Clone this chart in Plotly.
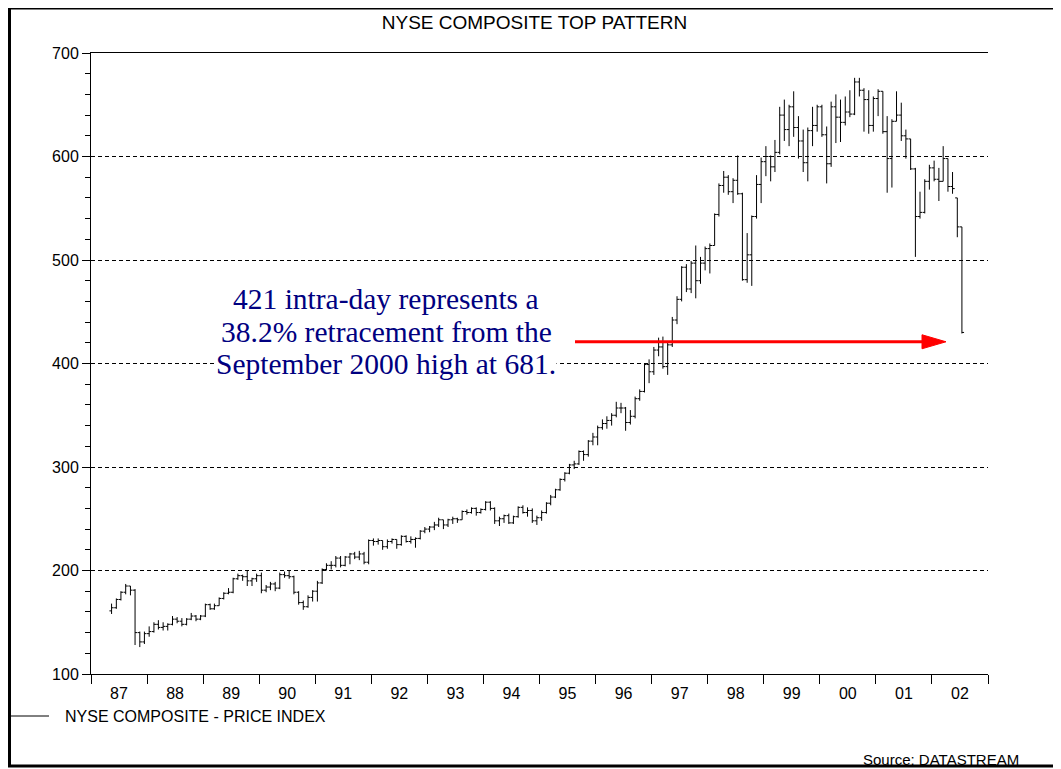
import pandas as pd
import plotly.graph_objects as go

# ---------------- data (monthly bars, May 1987 - Jul 2002) ----------------
first_month = "1987-05"
last_month = "2002-07"

open_ = [
    161, 164, 172, 179, 185, 181, 140, 131,
    139, 141, 148, 145, 146, 148, 153, 151, 148, 153, 156, 153,
    156, 167, 163, 166, 173, 178, 179, 192, 195, 194, 190, 192,
    195, 181, 184, 187, 183, 196, 195, 194, 179, 169, 165, 174,
    180, 188, 201, 205, 205, 212, 205, 213, 216, 213, 216, 208,
    229, 228, 229, 223, 228, 230, 225, 233, 228, 230, 231, 238,
    240, 242, 244, 249, 244, 249, 250, 249, 257, 256, 260, 256,
    259, 266, 260, 248, 250, 253, 246, 252, 261, 256, 258, 248,
    251, 256, 265, 271, 278, 288, 294, 302, 303, 315, 312, 325,
    329, 338, 342, 345, 350, 357, 357, 343, 349, 366, 373, 399,
    392, 413, 416, 397, 418, 442, 462, 493, 472, 497, 480, 497,
    511, 514, 544, 572, 580, 566, 577, 564, 481, 505, 542, 573,
    595, 600, 590, 604, 640, 626, 648, 628, 615, 594, 625, 630,
    648, 621, 593, 648, 638, 633, 643, 641, 672, 664, 655, 630,
    656, 663, 624, 598, 634, 640, 620, 617, 588, 542, 546, 576,
    589, 578, 576, 598, 571, 560, 532,
]
high = [
    168, 173, 180, 187, 185, 182, 141, 141,
    146, 150, 152, 150, 149, 156, 155, 154, 154, 159, 157, 157,
    168, 168, 168, 174, 179, 183, 193, 197, 196, 200, 193, 197,
    198, 186, 189, 189, 198, 199, 200, 195, 180, 171, 176, 181,
    190, 202, 207, 209, 214, 214, 214, 217, 218, 219, 218, 230,
    231, 231, 229, 230, 231, 230, 234, 234, 233, 232, 239, 242,
    243, 247, 251, 249, 250, 252, 251, 258, 259, 261, 261, 260,
    267, 267, 261, 252, 254, 255, 253, 262, 263, 261, 260, 253,
    258, 266, 273, 279, 289, 295, 303, 306, 316, 316, 326, 333,
    340, 346, 349, 352, 363, 362, 358, 355, 368, 375, 400, 404,
    416, 425, 426, 420, 445, 465, 494, 496, 499, 514, 503, 513,
    516, 545, 574, 586, 582, 579, 601, 565, 526, 543, 582, 599,
    610, 601, 616, 648, 655, 650, 663, 639, 626, 628, 648, 650,
    650, 629, 653, 660, 655, 658, 664, 676, 676, 666, 664, 658,
    665, 663, 639, 636, 663, 652, 626, 617, 589, 566, 578, 592,
    596, 589, 610, 598, 585, 560, 532,
]
low = [
    158, 163, 171, 177, 176, 128, 126, 129,
    136, 140, 143, 142, 142, 147, 149, 146, 147, 152, 151, 152,
    155, 162, 162, 166, 172, 177, 178, 191, 190, 185, 185, 189,
    178, 179, 181, 180, 182, 193, 192, 177, 167, 162, 164, 170,
    170, 187, 200, 201, 203, 203, 204, 206, 211, 210, 206, 206,
    224, 225, 220, 221, 226, 221, 224, 227, 226, 222, 230, 236,
    237, 239, 242, 240, 242, 245, 246, 249, 254, 255, 253, 255,
    258, 258, 245, 243, 246, 245, 245, 251, 255, 252, 246, 244,
    248, 255, 263, 270, 277, 286, 293, 298, 302, 306, 310, 321,
    321, 336, 337, 340, 348, 352, 335, 341, 347, 364, 372, 381,
    389, 407, 395, 389, 416, 438, 460, 469, 468, 463, 477, 490,
    487, 514, 542, 565, 563, 555, 563, 480, 478, 475, 540, 555,
    581, 576, 585, 602, 615, 610, 619, 598, 585, 576, 610, 624,
    619, 574, 590, 613, 614, 630, 638, 640, 658, 624, 622, 624,
    639, 622, 565, 570, 634, 615, 598, 587, 503, 540, 545, 568,
    576, 557, 576, 566, 564, 522, 429,
]
close = [
    164, 172, 179, 185, 181, 140, 131, 139,
    141, 148, 145, 146, 148, 153, 151, 148, 153, 156, 153, 156,
    167, 163, 166, 173, 178, 179, 192, 195, 194, 190, 192, 195,
    181, 184, 187, 183, 196, 195, 194, 179, 169, 165, 174, 180,
    188, 201, 205, 205, 212, 205, 213, 216, 213, 216, 208, 229,
    228, 229, 223, 228, 230, 225, 233, 228, 230, 231, 238, 240,
    242, 244, 249, 244, 249, 250, 249, 257, 256, 260, 256, 259,
    266, 260, 248, 250, 253, 246, 252, 261, 256, 258, 248, 251,
    256, 265, 271, 278, 288, 294, 302, 303, 315, 312, 325, 329,
    338, 342, 345, 350, 357, 357, 343, 349, 366, 373, 399, 392,
    413, 416, 397, 418, 442, 462, 493, 472, 497, 480, 497, 511,
    514, 544, 572, 580, 566, 577, 564, 481, 505, 542, 573, 595,
    600, 590, 604, 640, 626, 648, 628, 615, 594, 625, 630, 648,
    621, 593, 648, 638, 633, 643, 641, 672, 664, 655, 630, 656,
    663, 624, 598, 634, 640, 620, 617, 588, 542, 546, 576, 589,
    578, 576, 598, 571, 569, 532, 430,
]

y_ticks = [100, 200, 300, 400, 500, 600, 700]
target_level = 421

title_text = "NYSE COMPOSITE TOP PATTERN"
series_name = "NYSE COMPOSITE - PRICE INDEX"
source_text = "Source: DATASTREAM"
note_lines = [
    "421 intra-day represents a",
    "38.2% retracement from the",
    "September 2000 high at 681.",
]

# ---------------- layout helpers ----------------
# The page body has an 8px margin, so the figure is drawn 8px in from
# the top-left of the window; positions below are window pixels.
OFF = 8
W, H = 1061 - OFF, 769 - OFF
ML, MR, MT, MB = 91 - OFF, 73, 53 - OFF, 95
PW, PH = W - ML - MR, H - MT - MB


def px(x):
    return (x - OFF - ML) / PW


def py(y):
    return (H - MB - (y - OFF)) / PH


months = pd.period_range(first_month, last_month, freq="M")
dates = [p.start_time + pd.Timedelta(days=14) for p in months]

SANS = "Liberation Sans, Arial, sans-serif"
SERIF = "Liberation Serif, Times New Roman, serif"

fig = go.Figure(
    go.Ohlc(
        x=dates,
        open=open_,
        high=high,
        low=low,
        close=close,
        increasing=dict(line=dict(color="black", width=1)),
        decreasing=dict(line=dict(color="black", width=1)),
        tickwidth=0.5,
        showlegend=False,
        hoverinfo="skip",
    )
)

fig.update_layout(
    width=W,
    height=H,
    margin=dict(l=ML, r=MR, t=MT, b=MB),
    paper_bgcolor="white",
    plot_bgcolor="white",
    showlegend=False,
    font=dict(family=SANS, size=16, color="black"),
    title=dict(
        text=title_text,
        x=0.5,
        xref="container",
        xanchor="center",
        y=1 - (22 - OFF) / H,
        yref="container",
        yanchor="middle",
        font=dict(family=SANS, size=19, color="black"),
    ),
    xaxis=dict(
        type="date",
        range=["1987-01-01", "2003-01-01"],
        tick0="1987-01-01",
        dtick="M12",
        ticklabelmode="period",
        tickformat="%y",
        ticks="outside",
        ticklen=9,
        tickcolor="black",
        tickwidth=1,
        ticklabelstandoff=-4,
        showline=True,
        linecolor="black",
        linewidth=1,
        mirror=True,
        showgrid=False,
        zeroline=False,
        rangeslider=dict(visible=False),
        tickfont=dict(family=SANS, size=16, color="black"),
    ),
    yaxis=dict(
        range=[y_ticks[0], y_ticks[-1]],
        tickvals=y_ticks,
        ticks="outside",
        ticklen=8,
        tickcolor="black",
        tickwidth=1,
        showline=True,
        linecolor="black",
        linewidth=1,
        showgrid=True,
        gridcolor="black",
        gridwidth=1,
        griddash="4px,3px",
        zeroline=False,
        minor=dict(dtick=20, tick0=100, ticks="outside", ticklen=5,
                   tickcolor="black", showgrid=False),
        tickfont=dict(family=SANS, size=16, color="black"),
    ),
)

shapes = []
# outer border
shapes.append(dict(type="rect", xref="paper", yref="paper",
                   x0=px(9.5), x1=px(1057), y0=py(766), y1=py(8),
                   line=dict(color="black", width=3), fillcolor="rgba(0,0,0,0)",
                   layer="above"))
# legend sample line
shapes.append(dict(type="line", xref="paper", yref="paper",
                   x0=px(10), x1=px(49), y0=py(716), y1=py(716),
                   line=dict(color="black", width=1)))
# red arrow (shaft + head) at the 421 level
shapes.append(dict(type="line", xref="paper", yref="y",
                   x0=px(575), x1=px(924), y0=target_level, y1=target_level,
                   line=dict(color="#ff0000", width=3), layer="above"))
head_half = 7 * (y_ticks[-1] - y_ticks[0]) / PH
shapes.append(dict(type="path", xref="paper", yref="y",
                   path=(f"M {px(946)},{target_level} "
                         f"L {px(922)},{target_level + head_half} "
                         f"L {px(922)},{target_level - head_half} Z"),
                   fillcolor="#ff0000", line=dict(color="#ff0000", width=1),
                   layer="above"))
fig.update_layout(shapes=shapes)

annotations = []
for text, yc in zip(note_lines, [299, 332, 364]):
    annotations.append(dict(
        text=text, xref="paper", yref="paper", x=px(386), y=py(yc),
        xanchor="center", yanchor="middle", showarrow=False,
        bgcolor="white", borderpad=0,
        font=dict(family=SERIF, size=29.5, color="#000080"),
    ))
annotations.append(dict(
    text=series_name, xref="paper", yref="paper", x=px(63), y=py(716),
    xanchor="left", yanchor="middle", showarrow=False,
    font=dict(family=SANS, size=16, color="black"),
))
annotations.append(dict(
    text=source_text, xref="paper", yref="paper", x=px(1021), y=py(759),
    xanchor="right", yanchor="middle", showarrow=False,
    font=dict(family=SANS, size=15, color="black"),
))
fig.update_layout(annotations=annotations)

fig.write_html("out.html")
